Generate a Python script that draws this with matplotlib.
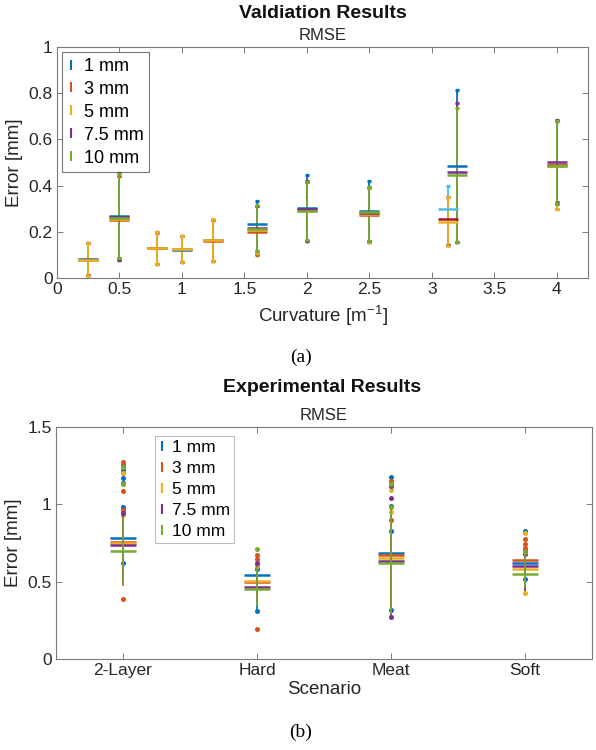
import numpy as np
import matplotlib
matplotlib.use("Agg")
import matplotlib.pyplot as plt
from matplotlib.lines import Line2D

plt.rcParams['font.family'] = ['Liberation Sans', 'DejaVu Sans']
plt.rcParams['mathtext.fontset'] = 'custom'
plt.rcParams['mathtext.rm'] = 'Liberation Sans'
plt.rcParams['mathtext.it'] = 'Liberation Sans:italic'

# ---------------- data ----------------
series_labels = ['1 mm', '3 mm', '5 mm', '7.5 mm', '10 mm']
series_colors = ['#0072BD', '#D95319', '#EDB120', '#7E2F8E', '#77AC30']

# (a) validation: curvature positions
curv = [0.25, 0.5, 0.8, 1.0, 1.25, 1.6, 2.0, 2.5, 3.13, 3.2, 4.0]
nan = np.nan
val_mean = {
    '1 mm':   [0.082, 0.268, 0.130, 0.120, 0.164, 0.232, 0.303, 0.290, 0.297, 0.484, 0.490],
    '3 mm':   [0.080, 0.250, 0.128, 0.124, 0.162, 0.200, 0.295, 0.272, 0.256, nan, 0.490],
    '5 mm':   [0.080, 0.255, 0.130, 0.125, 0.163, 0.208, 0.290, 0.278, 0.242, nan, 0.484],
    '7.5 mm': [nan, 0.265, nan, nan, nan, 0.215, 0.298, 0.282, nan, 0.458, 0.501],
    '10 mm':  [nan, 0.260, nan, nan, nan, 0.212, 0.292, 0.285, nan, 0.445, 0.484],
}
val_max = {
    '1 mm':   [0.150, 0.440, 0.198, 0.180, 0.252, 0.335, 0.448, 0.419, 0.398, 0.814, 0.680],
    '3 mm':   [0.150, 0.440, 0.195, 0.180, 0.250, 0.310, 0.415, 0.390, 0.350, nan, 0.680],
    '5 mm':   [0.152, 0.450, 0.198, 0.180, 0.255, 0.310, 0.420, 0.390, 0.350, nan, 0.680],
    '7.5 mm': [nan, 0.460, nan, nan, nan, 0.310, 0.418, 0.395, nan, 0.759, 0.685],
    '10 mm':  [nan, 0.455, nan, nan, nan, 0.315, 0.416, 0.394, nan, 0.735, 0.680],
}
val_min = {
    '1 mm':   [0.013, 0.085, 0.060, 0.070, 0.072, 0.105, 0.160, 0.155, 0.145, 0.155, 0.320],
    '3 mm':   [0.013, 0.080, 0.060, 0.070, 0.072, 0.101, 0.160, 0.155, 0.145, nan, 0.300],
    '5 mm':   [0.010, 0.080, 0.060, 0.070, 0.072, 0.110, 0.160, 0.158, 0.140, nan, 0.300],
    '7.5 mm': [nan, 0.080, nan, nan, nan, 0.115, 0.160, 0.160, nan, 0.155, 0.330],
    '10 mm':  [nan, 0.085, nan, nan, nan, 0.118, 0.165, 0.160, nan, 0.155, 0.320],
}
# alternate colours used in the 3.13 group
alt_colors = {('1 mm', 8): '#4DBEEE', ('3 mm', 8): '#A2142F'}

# (b) experimental
scenarios = ['2-Layer', 'Hard', 'Meat', 'Soft']
exp_mean = {
    '1 mm':   [0.783, 0.544, 0.686, 0.624],
    '3 mm':   [0.757, 0.498, 0.675, 0.641],
    '5 mm':   [0.750, 0.502, 0.656, 0.579],
    '7.5 mm': [0.738, 0.464, 0.637, 0.600],
    '10 mm':  [0.700, 0.452, 0.619, 0.551],
}
exp_lo = {
    '1 mm':   [0.520, 0.310, 0.300, 0.450],
    '3 mm':   [0.475, 0.360, 0.300, 0.440],
    '5 mm':   [0.490, 0.370, 0.310, 0.421],
    '7.5 mm': [0.500, 0.360, 0.270, 0.440],
    '10 mm':  [0.486, 0.346, 0.290, 0.460],
}
exp_hi = {
    '1 mm':   [0.997, 0.600, 0.990, 0.720],
    '3 mm':   [0.965, 0.630, 0.950, 0.720],
    '5 mm':   [0.950, 0.620, 0.960, 0.700],
    '7.5 mm': [0.945, 0.610, 0.930, 0.700],
    '10 mm':  [0.920, 0.600, 0.986, 0.690],
}
exp_dots = {
    '1 mm':   [[1.257, 1.225, 1.171, 1.137, 0.98, 0.62], [0.309, 0.60, 0.58], [1.18, 0.99, 0.83, 0.32], [0.831, 0.70, 0.52]],
    '3 mm':   [[1.272, 1.20, 1.089, 0.389, 0.965], [0.67, 0.65, 0.195], [1.149, 0.90], [0.777, 0.745, 0.72]],
    '5 mm':   [[1.20, 0.93], [0.60], [1.094, 0.95], [0.814, 0.43]],
    '7.5 mm': [[0.945], [0.62], [1.12, 1.04, 0.27], [0.68]],
    '10 mm':  [[1.24, 1.13], [0.712], [1.133, 0.986], [0.69]],
}

# ---------------- figure ----------------
fig = plt.figure(figsize=(5.96, 7.5), dpi=100)
ax1 = fig.add_axes([0.0956, 0.6293, 0.891, 0.308])
ax2 = fig.add_axes([0.094, 0.1213, 0.899, 0.3093])

spine_c = '#7a7a7a'
def style(ax):
    for s in ax.spines.values():
        s.set_color(spine_c)
        s.set_linewidth(0.8)
    ax.tick_params(direction='in', top=True, right=True, length=4,
                   width=0.7, color=spine_c, labelsize=12.5, labelcolor='#262626', pad=3)

# (a)
for lab, col in zip(series_labels, series_colors):
    m = val_mean[lab]; lo = val_min[lab]; hi = val_max[lab]
    for i, x in enumerate(curv):
        if np.isnan(m[i]):
            continue
        c = alt_colors.get((lab, i), col)
        ax1.errorbar([x], [m[i]], yerr=[[m[i] - lo[i]], [hi[i] - m[i]]], fmt='_',
                     color=c, ecolor=c, markersize=15, markeredgewidth=1.8,
                     elinewidth=1.3, capsize=1.3, capthick=1.3)
        ax1.plot([x, x], [lo[i], hi[i]], 's', color=c, markersize=1.8, linestyle='none')

ax1.set_xlim(0, 4.25)
ax1.set_ylim(0, 1)
ax1.set_xticks(np.arange(0, 4.01, 0.5))
ax1.set_xticklabels(['0', '0.5', '1', '1.5', '2', '2.5', '3', '3.5', '4'])
ax1.set_yticks(np.arange(0, 1.01, 0.2))
ax1.set_yticklabels(['0', '0.2', '0.4', '0.6', '0.8', '1'])
style(ax1)
ax1.set_xlabel('Curvature [m$^{-1}$]', fontsize=13.5, color='#262626', labelpad=5)
ax1.set_ylabel('Error [mm]', fontsize=13.5, color='#262626', labelpad=4)
ax1.set_title('RMSE', fontsize=12, color='#262626', pad=5)

handles = [Line2D([], [], marker='|', linestyle='none', color=c, markersize=7,
                  markeredgewidth=1.5) for c in series_colors]
leg1 = ax1.legend(handles, series_labels, loc='upper left', fontsize=13,
                  frameon=True, fancybox=False, edgecolor='#555555', handlelength=0.4,
                  handletextpad=0.5, borderpad=0.3, labelspacing=0.33,
                  borderaxespad=0.3)
leg1.get_frame().set_linewidth(0.8)

# (b)
xpos = np.arange(1, len(scenarios) + 1)
for lab, col in zip(series_labels, series_colors):
    ax2.vlines(xpos, exp_lo[lab], exp_hi[lab], color=col, linewidth=1.2)
    ax2.plot(xpos, exp_mean[lab], linestyle='none', marker='_', color=col,
             markersize=19, markeredgewidth=1.8)
    for xi, dots in zip(xpos, exp_dots[lab]):
        ax2.plot([xi] * len(dots), dots, 'o', color=col, markersize=2.6,
                 linestyle='none')

ax2.set_xlim(0.5, 4.5)
ax2.set_ylim(0, 1.5)
ax2.set_xticks(xpos)
ax2.set_xticklabels(scenarios)
ax2.set_yticks([0, 0.5, 1, 1.5])
ax2.set_yticklabels(['0', '0.5', '1', '1.5'])
style(ax2)
ax2.set_xlabel('Scenario', fontsize=13.5, color='#262626', labelpad=2)
ax2.set_ylabel('Error [mm]', fontsize=13.5, color='#262626', labelpad=4)
ax2.set_title('RMSE', fontsize=12, color='#262626', pad=5)

handles2 = [Line2D([], [], marker='|', linestyle='none', color=c, markersize=7,
                   markeredgewidth=1.5) for c in series_colors]
leg2 = ax2.legend(handles2, series_labels, loc='upper left',
                  bbox_to_anchor=(0.185, 0.962), fontsize=12.5,
                  frameon=True, fancybox=False, edgecolor='#aaaaaa', handlelength=0.3,
                  handletextpad=0.4, borderpad=0.25, labelspacing=0.33,
                  borderaxespad=0.0)
leg2.get_frame().set_linewidth(0.8)

# titles and panel labels
fig.text(0.541, 1 - 13 / 750, 'Valdiation Results', ha='center', va='center',
         fontsize=14, fontweight='bold', color='#111111')
fig.text(0.541, 1 - 388 / 750, 'Experimental Results', ha='center', va='center',
         fontsize=14, fontweight='bold', color='#111111')
fig.text(0.505, 1 - 357 / 750, '(a)', ha='center', va='center', fontsize=14,
         family='Liberation Serif')
fig.text(0.505, 1 - 732 / 750, '(b)', ha='center', va='center', fontsize=14,
         family='Liberation Serif')

fig.savefig('out.png', dpi=100)
